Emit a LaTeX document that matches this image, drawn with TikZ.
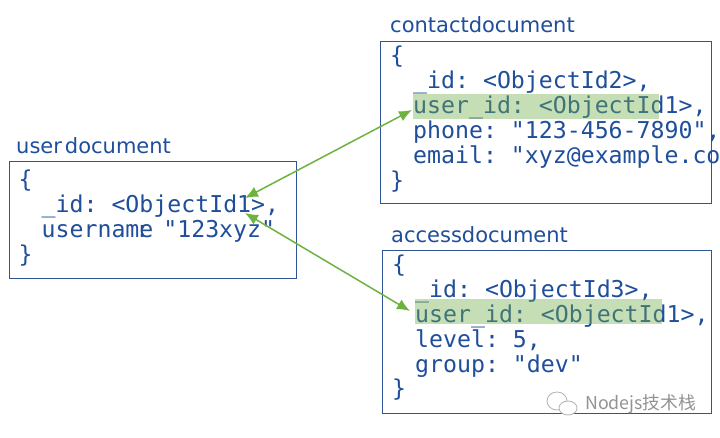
\documentclass[tikz,border=0pt]{standalone}
\usepackage{xcolor}
\usepackage{fontspec}
\setmainfont{DejaVu Sans}
\setmonofont{DejaVu Sans Mono}
\newfontfamily\markfont{Noto Sans CJK SC}
\usetikzlibrary{positioning}
\usetikzlibrary{arrows.meta}
\definecolor{docblue}{HTML}{1F4E9B}
\definecolor{boxblue}{HTML}{2F5597}
\definecolor{refgreen}{HTML}{70AD47}
\definecolor{linkgreen}{HTML}{6DB33F}
\newcommand{\docindent}{\hspace*{23pt}}
\begin{document}
\begin{tikzpicture}[x=1pt,y=-1pt,
      doc box/.style={draw=boxblue,line width=0.8pt,anchor=north west,inner sep=0pt},
      doc text/.style={text=docblue,align=left,inner sep=0pt,anchor=north west,
        font=\ttfamily\fontsize{23.2}{24.8}\selectfont},
      doc label/.style={text=docblue,inner sep=0pt,anchor=south west,
        font=\rmfamily\fontsize{21}{24}\selectfont},
      ref mark/.style={fill=refgreen,fill opacity=0.4,inner sep=0pt,anchor=north west,
        minimum width=246pt,minimum height=25pt},
      ref arrow/.style={draw=linkgreen,line width=1.5pt,{Latex[length=13pt,width=11pt]}-{Latex[length=13pt,width=11pt]}}
      ]
      \useasboundingbox (0,0) rectangle (720,438);
      \fill[white] (0,0) rectangle (720,438);
      % user
      \node[doc box,minimum width=287.5pt,minimum height=117pt] (user) at (8.5,161) {};
      \node[doc label,above right=7pt and 7.5pt of user.north west,anchor=south west] (userlabel) {user\kern3pt document};
      \node[doc text,below right=9pt and 10pt of user.north west,anchor=north west] (usertext) {\{\\
        \docindent\_id: <ObjectId1>,\\
        \docindent username\kern-18pt: "123xyz"\\
        \}};
      % contact
      \node[doc box,minimum width=331pt,minimum height=162pt] (contact) at (380,41) {};
      \node[doc label,above right=8pt and 10pt of contact.north west,anchor=south west] (contactlabel) {contactdocument};
      \node[doc text,below right=5pt and 10pt of contact.north west,anchor=north west,
        font=\ttfamily\fontsize{23.2}{25}\selectfont] (contacttext) {\{\\
        \docindent\_id: <ObjectId2>,\\
        \docindent user\_id: <ObjectId1>,\\
        \docindent phone: "123-456-7890",\\
        \docindent email: "xyz@example.co\\
        \}};
      \node[ref mark] (contactref) at (413,94) {};
      % access
      \node[doc box,minimum width=329pt,minimum height=163pt] (access) at (382,250) {};
      \node[doc label,above right=7pt and 9pt of access.north west,anchor=south west] (accesslabel) {accessdocument};
      \node[doc text,below right=5pt and 10pt of access.north west,anchor=north west] (accesstext) {\{\\
        \docindent\_id: <ObjectId3>,\\
        \docindent user\_id: <ObjectId1>,\\
        \docindent level: 5,\\
        \docindent group: "dev"\\
        \}};
      \node[ref mark,minimum width=247pt] (accessref) at (415,299) {};
      % links
      \coordinate (userup) at (245,198);
      \coordinate (userdown) at (245,213);
      \coordinate (contactend) at (412,110);
      \coordinate (accessend) at (410,311);
      \draw[ref arrow] (userup) -- (contactend);
      \draw[ref arrow] (userdown) -- (accessend);
      % watermark
      \draw[gray!60,line width=0.8pt,fill=white] (557,401) ellipse (10 and 9);
      \draw[gray!60,line width=0.8pt,fill=white] (568,408) ellipse (9 and 7);
      \node[inner sep=0pt,anchor=west,text=gray!85,font=\markfont\fontsize{17.8}{20}\selectfont] (mark) at (585,404) {Nodejs技术栈};
    \end{tikzpicture}
\end{document}
